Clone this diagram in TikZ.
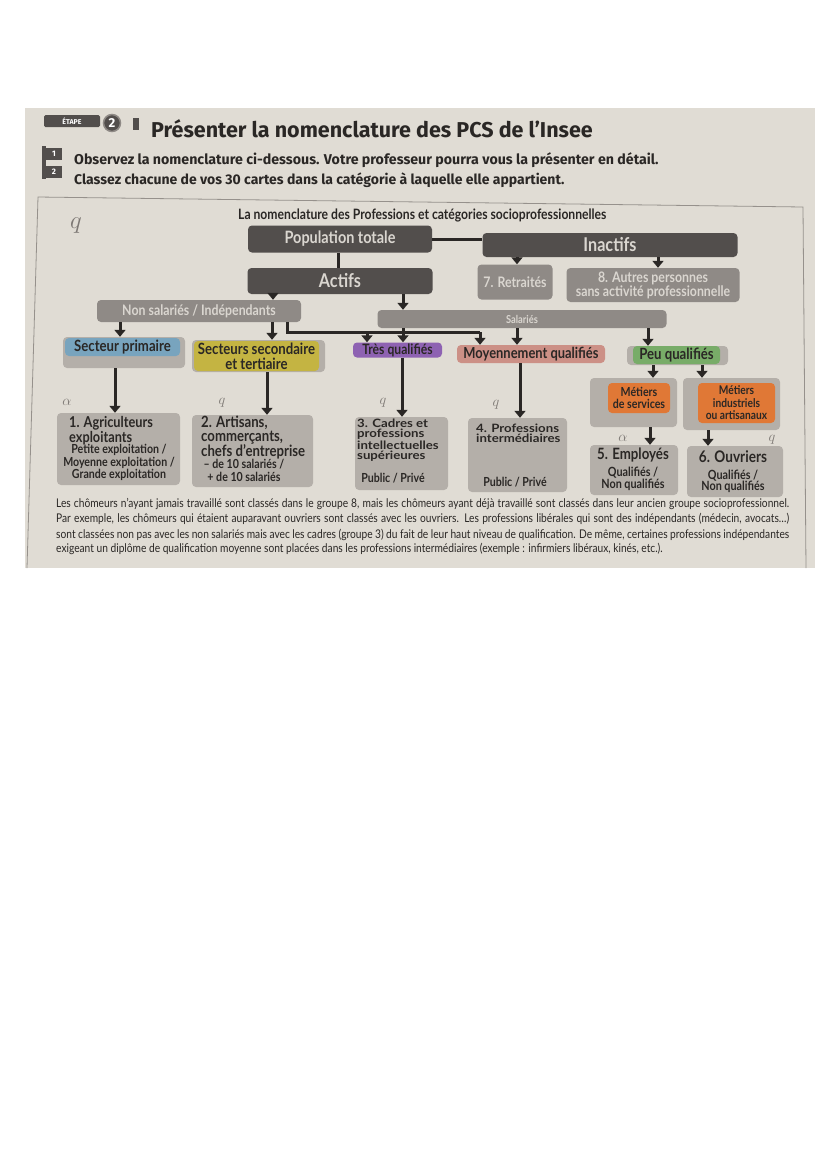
\documentclass[tikz,border=0pt]{standalone}
\usepackage{fontspec}
\setmainfont{Lato}[FakeStretch=0.85]
\newfontfamily\latolarge{Lato}[FakeStretch=1.15]
\newfontfamily\titrefont{Fira Sans}
\usetikzlibrary{arrows.meta}
\definecolor{papier}{RGB}{224,220,212}
\definecolor{encre}{RGB}{42,39,37}
\definecolor{csombre}{RGB}{82,78,76}
\definecolor{cmoyen}{RGB}{143,138,134}
\definecolor{cclair}{RGB}{180,175,169}
\definecolor{texteclair}{RGB}{218,214,208}
\definecolor{cbleu}{RGB}{120,164,190}
\definecolor{colive}{RGB}{196,180,66}
\definecolor{cviolet}{RGB}{142,98,178}
\definecolor{crose}{RGB}{204,144,134}
\definecolor{cvert}{RGB}{120,172,104}
\definecolor{corange}{RGB}{224,120,54}
\definecolor{cstylo}{RGB}{125,120,116}
\definecolor{ccadre}{RGB}{150,145,140}
\newcommand\taille[2]{\fontsize{#1}{#2}\selectfont}

\begin{document}
\begin{tikzpicture}[x=1pt,y=-1pt,
  fleche/.style={-{Triangle[width=11pt,length=7pt]},line width=3pt,draw=encre},
  trait/.style={line width=3pt,draw=encre},
  boite/.style={rounded corners=4pt,inner sep=0pt,align=center},
  sombre/.style={boite,fill=csombre,text=texteclair,font=\bfseries\taille{19}{19}},
  moyen/.style={boite,fill=cmoyen,text=texteclair,font=\bfseries\taille{14.5}{14}},
  clair/.style={boite,fill=cclair,text=encre},
  etiq/.style={inner sep=0pt,text=encre,align=left,font=\bfseries\taille{15}{12}},
  sous/.style={inner sep=0pt,text=encre,align=center,font=\bfseries\taille{12.5}{12.5}},
  ligne/.style={inner sep=0pt,text=encre,anchor=west,font=\taille{12}{12}},
  stylo/.style={inner sep=0pt,text=cstylo,font=\taille{14}{14}},
  puce/.style={fill=csombre,text=white,inner sep=0pt,minimum width=16pt,minimum height=12pt,font=\titrefont\bfseries\taille{8}{8}}
]
\useasboundingbox (0,0) rectangle (828,1171);
\fill[papier] (25,108) rectangle (815,568);
\draw[ccadre,line width=0.8pt] (27,568) -- (38,197) -- (803,207) -- (806,568);

\node[puce,minimum width=56pt,rounded corners=1.5pt,font=\titrefont\bfseries\taille{7}{7}] (etape) at (72,121) {ÉTAPE};
\node[circle,fill=csombre,draw=cmoyen,line width=1.5pt,text=white,minimum size=17pt,inner sep=0pt,font=\titrefont\bfseries\taille{13}{13}] (deux) at (112,123) {2};
\node[fill=csombre,minimum width=6pt,minimum height=12pt,inner sep=0pt] (crochet) at (136,124) {};
\node[inner sep=0pt,anchor=west,text=encre,font=\titrefont\bfseries\taille{21.5}{21.5}] (titre) at (151,129) {Présenter la nomenclature des PCS de l’Insee};
\fill[csombre] (42,146) rectangle (46,179);
\node[puce] (p1) at (54,154) {1};
\node[puce] (p2) at (54,172) {2};
\node[inner sep=0pt,anchor=west,text=encre,font=\titrefont\bfseries\taille{14.2}{14.2}] (c1) at (74,160) {Observez la nomenclature ci-dessous. Votre professeur pourra vous la présenter en détail.};
\node[inner sep=0pt,anchor=west,text=encre,font=\titrefont\bfseries\taille{14}{14}] (c2) at (74,180) {Classez chacune de vos 30 cartes dans la catégorie à laquelle elle appartient.};

\node[inner sep=0pt,anchor=west,text=encre,font=\bfseries\taille{14.3}{14.3}] (titrediag) at (238,215) {La nomenclature des Professions et catégories socioprofessionnelles};

\node[sombre,minimum width=184pt,minimum height=27pt,font=\bfseries\taille{17}{17}] (pop) at (340,239) {Population totale};
\node[sombre,minimum width=255pt,minimum height=24pt] (inactifs) at (610,245) {Inactifs};
\node[sombre,minimum width=185pt,minimum height=26pt] (actifs) at (340,281) {Actifs};
\node[moyen,minimum width=75pt,minimum height=35pt] (retraites) at (515,282) {7. Retraités};
\node[moyen,minimum width=173pt,minimum height=34pt] (autres) at (653,285) {8. Autres personnes\\sans activité professionnelle};
\node[moyen,minimum width=204pt,minimum height=22pt,font=\bfseries\taille{14.5}{14.5}] (nonsal) at (199,311) {Non salariés / Indépendants};
\node[moyen,minimum width=289pt,minimum height=18pt,font=\bfseries\taille{11}{11}] (salaries) at (522,319) {Salariés};

\node[clair,minimum width=122pt,minimum height=31pt] (primaire) at (124,352.5) {};
\node[boite,fill=cbleu,text=encre,minimum width=115pt,minimum height=18pt,font=\bfseries\taille{15.5}{15.5}] (primairet) at (122.5,347) {Secteur primaire};
\node[clair,minimum width=133pt,minimum height=32pt] (secteurs) at (258.5,356) {};
\node[boite,fill=colive,text=encre,minimum width=125pt,minimum height=30pt,font=\bfseries\taille{15.5}{15}] (secteurst) at (256.5,356) {Secteurs secondaire\\et tertiaire};
\node[boite,fill=cviolet,text=encre,minimum width=89pt,minimum height=15pt,font=\bfseries\taille{14.3}{14.3}] (tres) at (397.5,350) {Très qualifiés};
\node[boite,fill=crose,text=encre,minimum width=148pt,minimum height=18pt,font=\bfseries\taille{15.2}{15.2}] (moyen) at (531,354) {Moyennement qualifiés};
\node[clair,minimum width=101pt,minimum height=19pt] (peu) at (677.5,355.5) {};
\node[boite,fill=cvert,text=encre,minimum width=87pt,minimum height=18pt,font=\bfseries\taille{15.5}{15.5}] (peut) at (676.5,355) {Peu qualifiés};

\node[clair,minimum width=87pt,minimum height=49pt] (services) at (633.5,402.5) {};
\node[boite,fill=corange,text=encre,minimum width=62pt,minimum height=30pt,font=\bfseries\taille{12.5}{11.5}] (servicest) at (639,398) {Métiers\\de services};
\node[clair,minimum width=97pt,minimum height=52pt] (industriels) at (731.5,404) {};
\node[boite,fill=corange,text=encre,minimum width=77pt,minimum height=40pt,font=\bfseries\taille{12}{12.5}] (industrielst) at (736.5,403) {Métiers\\industriels\\ou artisanaux};

\node[clair,minimum width=123pt,minimum height=72pt] (agri) at (118.5,449) {};
\node[etiq,anchor=north west] (agrit) at (69,416) {1. Agriculteurs\\exploitants};
\node[sous] (agris) at (119,462.5) {Petite exploitation /\\Moyenne exploitation /\\Grande exploitation};
\node[clair,minimum width=121pt,minimum height=72pt] (artisans) at (252.5,451) {};
\node[etiq,anchor=north west,font=\bfseries\taille{15.5}{13.5}] (artisanst) at (201,416) {2. Artisans,\\commerçants,\\chefs d’entreprise};
\node[sous] (artisanss) at (244,470.5) {– de 10 salariés /\\+ de 10 salariés};
\node[clair,minimum width=93pt,minimum height=73pt] (cadres) at (401.5,453.5) {};
\node[etiq,anchor=north west,font=\latolarge\bfseries\taille{11.5}{10}] (cadrest) at (357,419) {3. Cadres et\\professions\\intellectuelles\\supérieures};
\node[sous] (cadress) at (393,478) {Public / Privé};
\node[clair,minimum width=99pt,minimum height=74pt] (profint) at (517.5,455) {};
\node[etiq,anchor=north west,font=\latolarge\bfseries\taille{11.5}{10}] (profintt) at (476,424) {4. Professions\\intermédiaires};
\node[sous] (profints) at (515,482) {Public / Privé};
\node[clair,minimum width=88pt,minimum height=50pt] (employes) at (634,470) {};
\node[etiq,font=\bfseries\taille{15.6}{15.6}] (employest) at (633,455) {5. Employés};
\node[sous,font=\bfseries\taille{12.7}{12}] (employess) at (633,479) {Qualifiés /\\Non qualifiés};
\node[clair,minimum width=96pt,minimum height=51pt] (ouvriers) at (735,471.5) {};
\node[etiq,font=\bfseries\taille{16}{16}] (ouvrierst) at (733,457) {6. Ouvriers};
\node[sous,font=\bfseries\taille{12.7}{11.5}] (ouvrierss) at (733,481.5) {Qualifiés /\\Non qualifiés};

\draw[trait] (pop.east) -- (pop.east -| inactifs.west);
\draw[trait] (338,0 |- pop.south) -- (338,0 |- actifs.north);
\draw[fleche] (517,0 |- inactifs.south) -- (517,0 |- retraites.north);
\draw[fleche] (658,0 |- inactifs.south) -- (658,0 |- autres.north);
\draw[fleche] (273,0 |- actifs.south) -- (273,0 |- nonsal.north);
\draw[fleche] (403,0 |- actifs.south) -- (403,0 |- salaries.north);
\draw[fleche] (120,0 |- nonsal.south) -- (120,0 |- primaire.north);
\draw[fleche] (272,0 |- nonsal.south) -- (272,0 |- secteurs.north);
\coordinate (coin) at (480,332);
\draw[trait] (287,0 |- nonsal.south) |- (coin);
\draw[fleche] (367,0 |- coin) -- (367,0 |- tres.north);
\draw[fleche] (coin) -- (coin |- moyen.north);
\draw[fleche] (403,0 |- salaries.south) -- (403,0 |- tres.north);
\draw[fleche] (517,0 |- salaries.south) -- (517,0 |- moyen.north);
\draw[fleche] (648,0 |- salaries.south) -- (648,0 |- peu.north);
\draw[fleche] (115,0 |- primaire.south) -- (115,0 |- agri.north);
\draw[fleche] (267,0 |- secteurs.south) -- (267,0 |- artisans.north);
\draw[fleche] (402,0 |- tres.south) -- (402,0 |- cadres.north);
\draw[fleche] (520,0 |- moyen.south) -- (520,0 |- profint.north);
\draw[fleche] (653,0 |- peu.south) -- (653,0 |- services.north);
\draw[fleche] (702,0 |- peu.south) -- (702,0 |- industriels.north);
\draw[fleche] (650,0 |- services.south) -- (650,0 |- employes.north);
\draw[fleche] (708,0 |- industriels.south) -- (708,0 |- ouvriers.north);

\node[stylo,font=\taille{28}{28}] (q0) at (76,226) {$q$};
\node[stylo] (a1) at (67,402) {$\alpha$};
\node[stylo] (q2) at (222,403) {$q$};
\node[stylo] (q3) at (383,403) {$q$};
\node[stylo] (q4) at (496,405) {$q$};
\node[stylo] (a5) at (623,438) {$\alpha$};
\node[stylo] (q6) at (772,440) {$q$};

\node[ligne] (l1) at (56,504) {\makebox[733pt][s]{Les chômeurs n’ayant jamais travaillé sont classés dans le groupe 8, mais les chômeurs ayant déjà travaillé sont classés dans leur ancien groupe socioprofessionnel.}};
\node[ligne] (l2) at (56,519) {\makebox[733pt][s]{Par exemple, les chômeurs qui étaient auparavant ouvriers sont classés avec les ouvriers. Les professions libérales qui sont des indépendants (médecin, avocats\ldots)}};
\node[ligne] (l3) at (56,534.5) {\makebox[733pt][s]{sont classées non pas avec les non salariés mais avec les cadres (groupe 3) du fait de leur haut niveau de qualification. De même, certaines professions indépendantes}};
\node[ligne] (l4) at (56,549) {exigeant un diplôme de qualification moyenne sont placées dans les professions intermédiaires (exemple : infirmiers libéraux, kinés, etc.).};
\end{tikzpicture}
\end{document}
